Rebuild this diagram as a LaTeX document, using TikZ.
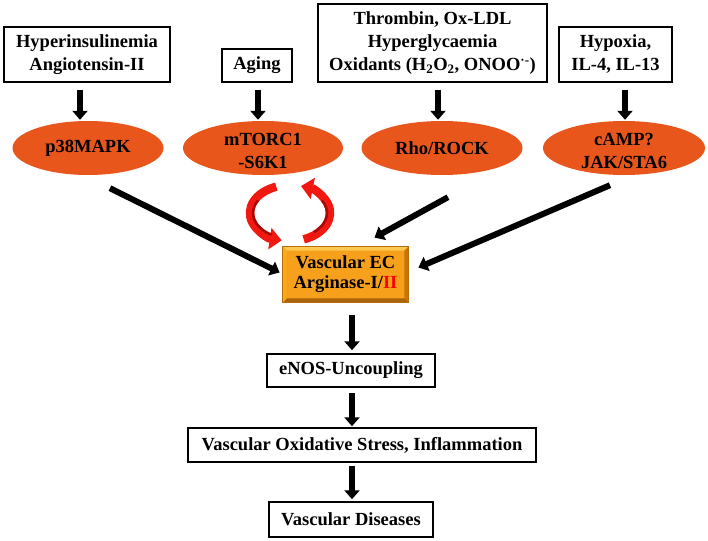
\documentclass[tikz,border=0pt]{standalone}
\usepackage{fontspec}
\setmainfont{Liberation Serif}
\usetikzlibrary{arrows.meta,shapes.geometric,calc}
\definecolor{ell}{HTML}{E8561C}
\definecolor{ecfill}{HTML}{F7A01C}
\definecolor{ecedge}{HTML}{B86E0C}
\definecolor{eclight}{HTML}{FCC850}
\definecolor{ecdark}{HTML}{C87408}
\definecolor{redarr}{HTML}{F21812}
\definecolor{darkred}{HTML}{A80808}
\newcommand{\fs}{\fontsize{18.5}{23}\selectfont\bfseries}
\begin{document}
\begin{tikzpicture}[x=1pt,y=-1pt,
  box/.style={draw, line width=1.5pt, fill=white, inner sep=0pt, align=center, font=\fs},
  ellnode/.style={ellipse, fill=ell, inner sep=0pt, minimum height=54pt},
  elltext/.style={align=center, font=\fs},
  blk/.style={line width=6pt, -{Triangle[length=9pt,width=15pt]}},
  redloop/.style={line width=8.5pt, redarr, -{Triangle[length=12pt,width=21pt]}},
  redshade/.style={line width=2.5pt, darkred}]
\useasboundingbox (0,0) rectangle (708,540);
% top boxes
\node[box, minimum width=166pt, minimum height=55pt] (t1) at (87,54.5) {Hyperinsulinemia\\Angiotensin-II};
\node[box, minimum width=70pt, minimum height=33pt] (t2) at (257,65.5) {Aging};
\node[box, minimum width=229pt, minimum height=78pt] (t3) at (432.5,43) {Thrombin, Ox-LDL\\Hyperglycaemia\\Oxidants (H\textsubscript{2}O\textsubscript{2}, ONOO\textsuperscript{·-})};
\node[box, minimum width=113pt, minimum height=55pt] (t4) at (615.5,54.5) {Hypoxia,\\IL-4, IL-13};
% ellipses
\node[ellnode, minimum width=151pt, label={[elltext]center:p38MAPK}] (p38) at (88,148) {};
\node[ellnode, minimum width=160pt, label={[elltext, yshift=-3pt]center:{mTORC1\\-S6K1}}] (mt) at (263,148) {};
\node[ellnode, minimum width=161pt, label={[elltext]center:Rho/ROCK}] (rho) at (442,148) {};
\node[ellnode, minimum width=162pt, label={[elltext, yshift=-3pt]center:{cAMP?\\JAK/STA6}}] (camp) at (624,148) {};
% EC box
\node[draw=ecedge, line width=0.8pt, fill=ecfill, minimum width=125pt, minimum height=55pt, inner sep=0pt, align=center, font=\fs] (ec) at (345.5,274.5) {Vascular EC\\[-3pt]Arginase-I/\textcolor{red}{II}};
\fill[eclight] (ec.north west) -- (ec.north east) -- ([shift={(-4pt,-4pt)}]ec.north east) -- ([shift={(4pt,-4pt)}]ec.north west) -- cycle;
\fill[ecdark] (ec.north east) -- (ec.south east) -- ([shift={(-4pt,4pt)}]ec.south east) -- ([shift={(-4pt,-4pt)}]ec.north east) -- cycle;
\fill[ecdark!85!black] (ec.south west) -- (ec.south east) -- ([shift={(-4pt,4pt)}]ec.south east) -- ([shift={(4pt,4pt)}]ec.south west) -- cycle;
\fill[ecfill!90!yellow] (ec.north west) -- (ec.south west) -- ([shift={(4pt,4pt)}]ec.south west) -- ([shift={(4pt,-4pt)}]ec.north west) -- cycle;
\draw[ecedge, line width=0.8pt] (ec.north west) rectangle (ec.south east);
% bottom boxes
\node[box, minimum width=168pt, minimum height=33pt] (e1) at (351,370.5) {eNOS-Uncoupling};
\node[box, minimum width=348pt, minimum height=34pt] (e2) at (362,445) {Vascular Oxidative Stress, Inflammation};
\node[box, minimum width=164pt, minimum height=35pt] (e3) at (351,519.5) {Vascular Diseases};
% down arrows top
\draw[blk] ([xshift=-7pt,yshift=-7pt]t1.south) -- ([xshift=-8pt,yshift=1pt]p38.north);
\draw[blk] ([xshift=1pt,yshift=-7pt]t2.south) -- ([xshift=-5pt,yshift=1pt]mt.north);
\draw[blk] ([xshift=5.5pt,yshift=-7pt]t3.south) -- ([xshift=-4pt,yshift=1pt]rho.north);
\draw[blk] ([xshift=9.5pt,yshift=-7pt]t4.south) -- ([xshift=1pt,yshift=1pt]camp.north);
% diagonal arrows
\draw[blk] ([xshift=22pt,yshift=-13pt]p38.south) -- ([xshift=-3pt,yshift=2pt]ec.west);
\draw[blk] ([xshift=6pt,yshift=-22pt]rho.south) -- ([xshift=29pt,yshift=9pt]ec.north);
\draw[blk] ([xshift=-14pt,yshift=-10pt]camp.south) -- ([xshift=10pt,yshift=7pt]ec.east);
% red loop
\coordinate (loop) at (290,213);
\draw[redloop] ($(loop)+(-110:40 and 28)$) arc[start angle=-110, end angle=-258, x radius=40, y radius=28];
\draw[redloop] ($(loop)+(70:40 and 28)$) arc[start angle=70, end angle=-74, x radius=40, y radius=28];
\draw[redshade] ($(loop)+(-150:37 and 25)$) arc[start angle=-150, end angle=-240, x radius=37, y radius=25];
\draw[redshade] ($(loop)+(50:37 and 25)$) arc[start angle=50, end angle=-30, x radius=37, y radius=25];
% bottom arrows
\draw[blk] ([xshift=6.5pt,yshift=-13pt]ec.south) -- ([xshift=1pt,yshift=3pt]e1.north);
\draw[blk] ([xshift=1pt,yshift=-5pt]e1.south) -- ([xshift=-10pt,yshift=1pt]e2.north);
\draw[blk] ([xshift=-10pt,yshift=-3pt]e2.south) -- ([xshift=1pt,yshift=2pt]e3.north);
\end{tikzpicture}
\end{document}
